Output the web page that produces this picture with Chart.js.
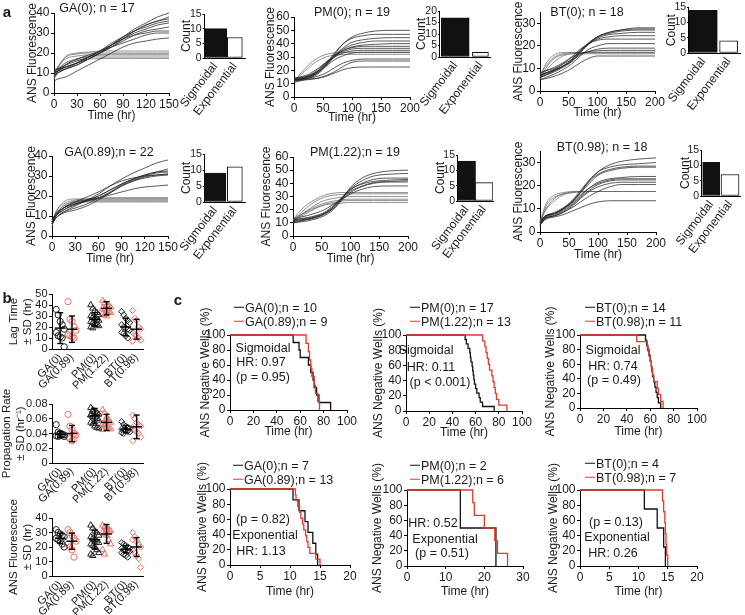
<!DOCTYPE html>
<html><head><meta charset="utf-8">
<script src="https://cdn.jsdelivr.net/npm/chart.js@4.4.0/dist/chart.umd.min.js"></script>
<style>
html,body{margin:0;padding:0;background:#fff;}
body{width:745px;height:615px;position:relative;overflow:hidden;font-family:"Liberation Sans",Arial,Helvetica,sans-serif;color:#1a1a1a;}
canvas{position:absolute;}
.t{position:absolute;white-space:nowrap;transform:translate(-50%,-50%);line-height:1;}
.lg{position:absolute;white-space:nowrap;font-size:12.5px;line-height:1;transform:translateY(-50%);}
.lg i{display:inline-block;width:10px;height:0;border-top:1.6px solid #000;vertical-align:middle;margin-right:1px;position:relative;top:-1px;}
</style></head><body>
<script>
// ================= DATA =================
// ---- Panel a: ANS fluorescence traces ----
const timeGA = [0,5,15,30,45,60,75,90,105,120,135,150];
const timeLong = [0,10,25,40,55,70,85,100,120,140,170,200];

const ga0Sig = [
 [10,11,12,14,17,20,24,28,32,35,38,40],
 [11,12,13,15,18,21,25,28,31,34,36,38],
 [9,10,12,15,18,21,24,28,31,34,36,37],
 [12,12,13,15,17,20,24,27,31,33,35,36],
 [8,10,12,14,17,20,23,27,30,32,34,35],
 [11,12,14,16,18,20,23,26,29,31,32,33],
 [10,11,13,15,18,21,24,27,29,30,31,31],
 [9,11,14,17,19,21,23,25,27,29,30,30],
 [6,7,8,11,14,17,20,23,25,26,27,27.5]
];
const ga0Exp = [
 [7,12,18,20,20.5,21,21,21,21,21,21,21],
 [8,13,18,19.5,20,20,20,20,20,20,20,20],
 [9,13,17,18.5,19,19,19,19,19,19,19,19],
 [8,11,15,17,18,18,18,18,18,18,18,18],
 [10,12,15,16.5,17,17.2,17.3,17.3,17.3,17.3,17.3,17.3],
 [7,10,14,17,18.5,19,19.5,19.5,19.5,19.5,19.5,19.5]
];
const pm0Sig = [
 [13,13.5,15,18,24,32,40,45,48,49.5,50,50],
 [14,14.5,16,19,25,33,40,44,46,47,47,47],
 [12,13,14,17,23,31,37,41,43,44,44.5,44.5],
 [13,14,15.5,19,25,31,36,39,41,42,42,42],
 [14,14,15,18,24,30,35,37.5,39,39.5,40,40],
 [12,13,15,19,25,31,35,37,38,38,38,38],
 [13,14,16,20,26,31,34,36,36.5,36.5,36.5,36.5],
 [14,15,17,21,26,30,33,34.5,35,35,35,35],
 [11,12,14,18,23,28,31,33,33.5,33.5,33.5,33.5],
 [13,13.5,14,15.5,18,22,25.5,27.5,28.5,28.5,28.5,28.5],
 [12,12.5,13,14,16,19,23,26,27,27,27,27],
 [13,13,13.5,14,15.5,18,20.5,22,22.5,22.5,22.5,22.5]
];
const pm0Exp = [
 [11,17,24,29,32,33,33.5,33.5,33.5,33.5,33.5,33.5],
 [12,16,22,27,30,31.5,32,32,32,32,32,32]
];
const bt0Sig = [
 [7,8,9,11,13,17,21,24,26,27,28,28],
 [6,7,8.5,10.5,13,17,21,24,26,27,27.5,27.5],
 [8,9,10,12,14,18,21.5,24,25.5,26.5,27,27],
 [7,8,9.5,11,13.5,17.5,21,23.5,25,25.5,26,26],
 [6.5,7.5,9,11,14,18,21,23,24,24.5,24.5,24.5],
 [7,8,9.5,12,15,18.5,21,22.5,23,23,23,23],
 [5,6,7.5,9.5,12,15.5,18.5,20,21,21,21,21],
 [6,7,9,11,13.5,16,17.5,18.5,19,19,19,19],
 [8,9,10.5,12.5,15,16.5,17.5,17.8,18,18,18,18],
 [5,5.5,6.5,8,10,12.5,14.5,15.5,15.5,15.5,15.5,15.5]
];
const bt0Exp = [
 [6,12,16,17,17,17,17,17,17,17,17,17],
 [7,11,15,16.5,17,17,17,17,17,17,17,17],
 [5,10,14.5,16,16.5,16.5,16.5,16.5,16.5,16.5,16.5,16.5],
 [6,9,13,15.5,16.5,17,17.2,17.2,17.2,17.2,17.2,17.2]
];
const ga89Sig = [
 [6,9,12,15,18,21,25,28.5,31.5,34,36.5,38],
 [7,10,13,16,18,20,23,26,28.5,30.5,32,33.5],
 [7,10,13,15.5,17.5,20,23,26,28.5,30.5,32,32.5],
 [6,9,12,14,16,19,22,25.5,28,30,31.5,32],
 [8,11,14,16,17.5,19,21.5,25,27.5,29.5,30.5,31],
 [6,9,11.5,13,15,18,21.5,25,27.5,29,30,30.5],
 [7,10,14,17,18,19,20.5,22,23.5,24.5,25,25.5],
 [8,11,14,17,19.5,22,25,27.5,29,30,30.5,31]
];
const ga89Exp = [
 [6,12,16,18,18.5,19,19,19,19,19,19,19],
 [7,12,17,18.5,18.5,18.5,18.5,18.5,18.5,18.5,18.5,18.5],
 [6,11,15,17.5,18,18,18,18,18,18,18,18],
 [5,10,14,16.5,17.5,17.5,17.5,17.5,17.5,17.5,17.5,17.5],
 [7,11,15,17,17,17,17,17,17,17,17,17],
 [6,10,14,16,17.5,18.5,19,19,19,19,19,19]
];
const pm122Sig = [
 [11,12,13,14.5,17,21,28,37,44,47.5,49.5,50],
 [12,12.5,13.5,15,17.5,22,29,36,42,45.5,47,47.5],
 [10,11,12.5,14,16.5,21,28,35,40,43,44,44],
 [11,11.5,12.5,14,17,22,29,35.5,39.5,41.5,42.5,43],
 [12,13,14,15.5,18,23,29,34,38,40.5,41.5,42],
 [10,10.5,11.5,13,15.5,20,27,33,37.5,40,41,41],
 [13,14,15.5,17.5,20,24,28,32,35.5,37.5,38,38]
];
const pm122Exp = [
 [12,18,24,28,31,32.5,33,33,33,33,33,33],
 [11,16,22,26.5,29.5,31,31.5,32,32,32,32,32],
 [10,14.5,19.5,24,27,28.5,29.5,30,30,30,30,30],
 [12,15,19,22.5,25,26.5,27.5,28,28,28,28,28],
 [11,14,17.5,21,24,25.5,26.5,27,27,27,27,27],
 [13,15.5,18.5,21.5,23.5,24.5,25,25.5,25.5,25.5,25.5,25.5]
];
const bt98Sig = [
 [4,7,8,10,13,17,22,26,29,30.5,31.5,32],
 [5,7,8.5,10.5,13.5,18,22.5,26,28,29,29.5,30],
 [4,7,8,10,13,17.5,22,25,27,28,28.5,28.5],
 [3,6.5,8,10,13,17,21,24.5,26.5,27.5,28,28],
 [4,6.5,7.5,9.5,12,15.5,19,21.5,23,23.5,24,24],
 [5,7,8,10,12.5,16,19,21,22.5,23,23,23],
 [4,6,7,9,11.5,15,18,20.5,22,22.5,22.5,22.5],
 [3,6,7,8.5,11,14.5,17.5,19.5,21,21.5,21.5,21.5],
 [4,6,7,8.5,10.5,13,15.5,17.5,19.5,20.5,20.5,20.5],
 [3,5.5,6.5,7.5,9,10.5,12,13,13.5,13.5,13.5,13.5]
];
const bt98Exp = [
 [4,12,16,17,17.5,17.5,17.5,17.5,17.5,17.5,17.5,17.5],
 [3,11,15,16.5,17.3,17.5,17.5,17.5,17.5,17.5,17.5,17.5],
 [5,10,14.5,16.5,17,17.3,17.5,17.5,17.5,17.5,17.5,17.5],
 [4,9.5,13.5,16,17,17.5,17.5,17.5,17.5,17.5,17.5,17.5]
];
// ---- Panel a: counts ----
const kineticsCategories = ['Sigmoidal','Exponential'];
const countsGA0 = [10,7];
const countsPM0 = [17,2];
const countsBT0 = [14,4];
const countsGA89 = [9,11];
const countsPM122 = [13,6];
const countsBT98 = [11,7];
const traceTitles = ['GA(0); n = 17','PM(0); n = 19','BT(0); n = 18','GA(0.89);n = 22','PM(1.22);n = 19','BT(0.98); n = 18'];

// ---- Panel b ----
const groupLabels = ['GA(0)','GA(0.89)','PM(0)','PM(1.22)','BT(0)','BT(0.98)'];
const lagTimes = [
 [36,31,25,22,18,15,12,11,10,2],
 [43,27,25,20,17,13,12,11,10],
 [40,37,35,33,31,30,29,28,27,26,25,24,23,22,21,20,19],
 [44,42,40,39,38,37,36,35,34,33,32,31,30],
 [34,31,28,26,24,22,20,19,18,17,15,14,12,10],
 [35,28,26,20,18,15,13,12,10,8,7]
];
const lagMean = [19,18,27,37,20,18];
const lagSD = [14,12,6,6,8,9];
const propRates = [
 [0.052,0.042,0.040,0.039,0.038,0.037,0.036,0.037,0.038,0.036],
 [0.066,0.050,0.045,0.040,0.038,0.035,0.033,0.030,0.032],
 [0.075,0.072,0.070,0.068,0.066,0.065,0.063,0.062,0.060,0.058,0.055,0.053,0.050,0.048,0.047,0.065,0.070],
 [0.072,0.068,0.062,0.058,0.055,0.053,0.050,0.048,0.047,0.046,0.045,0.052,0.060],
 [0.056,0.052,0.050,0.048,0.047,0.046,0.045,0.044,0.043,0.042,0.041,0.040,0.045,0.047],
 [0.065,0.060,0.055,0.052,0.050,0.048,0.045,0.042,0.040,0.035,0.030]
];
const propMean = [0.039,0.040,0.064,0.055,0.046,0.049];
const propSD = [0.004,0.011,0.010,0.011,0.005,0.016];
const ansFluor = [
 [32,30,29,28,27,26,25,24,22,20],
 [32,30,28,26,24,22,20,18,13],
 [35,33,31,30,28,27,26,25,24,23,22,21,20,18,16,15,14],
 [35,34,33,32,31,30,29,28,25,22,18,15,32],
 [23,22,21,20,19,19,18,18,17,17,16,15,14,13],
 [30,27,24,22,20,18,16,14,12,6,25]
];
const ansMean = [26,24,25,29,18.5,20];
const ansSD = [3.5,5.5,6.5,6.5,2.5,6.5];

// ---- Panel c: Kaplan-Meier steps (time of event, % negative after it) ----
const kmGA0sTime = [54,59,60,67,69,71,72,74,76,86];
const kmGA0sPct  = [90,80,70,60,50,40,30,20,10,0];
const kmGA89sTime = [65,67,68,69,70,72,73,75,76.5];
const kmGA89sPct  = [88.9,77.8,66.7,55.6,44.4,33.3,22.2,11.1,0];
const kmPM0sTime = [51,52,53.5,55,55.5,56,57,57.5,58,58.5,59,60,61,63,64,66,76];
const kmPM0sPct  = [94.1,88.2,82.4,76.5,70.6,64.7,58.8,52.9,47.1,41.2,35.3,29.4,23.5,17.6,11.8,5.9,0];
const kmPM122sTime = [66,68,69,70,71,72,74,75,76,77,78,80,87];
const kmPM122sPct  = [92.3,84.6,76.9,69.2,61.5,53.8,46.2,38.5,30.8,23.1,15.4,7.7,0];
const kmBT0sTime = [56,57,58,59,60,61,61.5,62,63,64,65,66,67,69];
const kmBT0sPct  = [92.9,85.7,78.6,71.4,64.3,57.1,50,42.9,35.7,28.6,21.4,14.3,7.1,0];
const kmBT98sTime = [48.5,57.5,59,60,61,62,63,66,67,69,71];
const kmBT98sPct  = [90.9,81.8,72.7,63.6,54.5,45.5,36.4,27.3,18.2,9.1,0];
const kmGA0eTime = [10.5,11.5,12.5,13.0,13.8,14.3,14.6];
const kmGA0ePct  = [85.7,71.4,57.1,42.9,28.6,14.3,0];
const kmGA89eTime = [10.9,11.0,11.3,11.6,11.8,12.1,12.3,12.6,12.8,13.0,13.3,14.3,15.0];
const kmGA89ePct  = [92.3,84.6,76.9,69.2,61.5,53.8,46.2,38.5,30.8,23.1,15.4,7.7,0];
const kmPM0eTime = [13.8,23.0];
const kmPM0ePct  = [50,0];
const kmPM122eTime = [17.0,17.4,20.0,22.7,23.4,26.0];
const kmPM122ePct  = [83.3,66.7,50,33.3,16.7,0];
const kmBT0eTime = [11.0,13.2,14.3,14.6];
const kmBT0ePct  = [75,50,25,0];
const kmBT98eTime = [14.1,14.3,14.5,14.6,14.7,14.8,15.0];
const kmBT98ePct  = [85.7,71.4,57.1,42.9,28.6,14.3,0];

// ================= STYLE / LAYOUT =================
const FONT = '"Liberation Sans", Arial, Helvetica, sans-serif';
const INK = '#1a1a1a';
const RED = '#e5392c';
const RED_LIGHT = '#ef6f62';
Chart.defaults.font.family = FONT;
Chart.defaults.font.size = 12;
Chart.defaults.color = INK;

function yAx(min, max, step, title, o = {}) {
  return {
    type: 'linear', position: 'left', min, max,
    grid: {drawOnChartArea: false, drawTicks: true, tickLength: o.tl || 3, color: '#000', lineWidth: 1},
    border: {display: true, color: '#000', width: 1},
    ticks: {stepSize: step, includeBounds: false, autoSkip: false, padding: o.pad == null ? 1.5 : o.pad, color: INK, font: {size: o.tick || 12}},
    title: {display: !!title, text: title || '', padding: 0, color: INK, font: {size: o.title || 12}}
  };
}
function xAx(min, max, step, title, o = {}) {
  return {
    type: 'linear', position: 'bottom', min, max, offset: false,
    grid: {drawOnChartArea: false, drawTicks: true, tickLength: 3, color: '#000', lineWidth: 1, offset: false},
    border: {display: true, color: '#000', width: 1},
    ticks: {stepSize: step, includeBounds: false, autoSkip: false, padding: 1, color: INK, maxRotation: 0, font: {size: o.tick || 12}},
    title: {display: !!title, text: title || '', padding: 0, color: INK, font: {size: o.title || 12}}
  };
}

function makeChart(box, plot, type, datasets, scales, extra = {}) {
  const c = document.createElement('canvas');
  const w = box.r - box.l, h = box.b - box.t;
  c.width = w; c.height = h;
  c.style.left = box.l + 'px'; c.style.top = box.t + 'px';
  c.style.width = w + 'px'; c.style.height = h + 'px';
  document.body.appendChild(c);
  scales.x.afterFit = s => { s.height = box.b - plot.b; };
  scales.y.afterFit = s => { s.width = plot.l - box.l; };
  return new Chart(c, {
    type, data: {datasets},
    options: Object.assign({
      responsive: false, animation: false, devicePixelRatio: 1,
      layout: {autoPadding: false, padding: {top: plot.t - box.t, right: box.r - plot.r, left: 0, bottom: 0}},
      scales,
      plugins: {legend: {display: false}, tooltip: {enabled: false}, title: {display: false}}
    }, extra)
  });
}

function txt(s, x, y, size, weight) {
  const d = document.createElement('div');
  d.className = 't'; d.textContent = s;
  d.style.left = x + 'px'; d.style.top = y + 'px'; d.style.fontSize = size + 'px';
  if (weight) d.style.fontWeight = weight;
  document.body.appendChild(d);
}
function legendItem(s, x, y, color) {
  const d = document.createElement('div');
  d.className = 'lg';
  d.style.left = x + 'px'; d.style.top = y + 'px';
  const i = document.createElement('i'); i.style.borderTopColor = color;
  d.appendChild(i); d.appendChild(document.createTextNode(s));
  document.body.appendChild(d);
}

// ---- panel a: traces ----
function traceChart(box, plot, times, sig, exp, ymax, ystep, xmax, xstep) {
  const mk = (arr, color, wid) => arr.map(v => ({
    data: v.map((y, i) => ({x: times[i], y})), borderColor: color, borderWidth: wid,
    pointRadius: 0, cubicInterpolationMode: 'monotone', fill: false, clip: false
  }));
  const ds = [...mk(sig, 'rgba(40,40,40,0.85)', 0.9), ...mk(exp, 'rgba(110,110,110,0.85)', 0.9)];
  makeChart(box, plot, 'line', ds, {
    x: xAx(0, xmax, xstep, 'Time (hr)'),
    y: yAx(0, ymax, ystep, 'ANS Fluorescence')
  });
}
traceChart({l:25,t:0,r:183,b:123},  {l:54,t:13,r:169,b:93},  timeGA, ga0Sig, ga0Exp, 40, 10, 150, 30);
traceChart({l:263,t:0,r:423,b:125}, {l:294,t:17,r:410,b:97}, timeLong, pm0Sig, pm0Exp, 60, 10, 200, 50);
traceChart({l:511,t:0,r:668,b:120}, {l:540,t:12,r:655,b:91}, timeLong, bt0Sig, bt0Exp, 35, 10, 200, 50);
traceChart({l:24,t:140,r:181,b:266}, {l:52,t:156,r:168,b:236}, timeGA, ga89Sig, ga89Exp, 40, 10, 150, 30);
traceChart({l:259,t:140,r:421,b:266}, {l:293,t:157,r:408,b:236}, timeLong, pm122Sig, pm122Exp, 60, 10, 200, 50);
traceChart({l:511,t:136,r:669,b:262}, {l:540,t:151,r:656,b:232}, timeLong, bt98Sig, bt98Exp, 35, 10, 200, 50);

// ---- panel a: counts ----
function countChart(box, plot, counts, ymax, xr, thick) {
  const ds = counts.map((v, i) => ({
    data: [{x: i, y: v}], backgroundColor: i === 0 ? '#111' : '#fff', borderColor: '#111',
    borderWidth: 1, borderSkipped: false, barThickness: thick[i], grouped: false
  }));
  const x = xAx(xr[0], xr[1], 1, '');
  x.grid.drawTicks = false; x.grid.display = false;
  x.afterBuildTicks = s => { s.ticks = kineticsCategories.map((_, i) => ({value: i})); };
  x.ticks.callback = (v, i) => kineticsCategories[i];
  x.ticks.minRotation = 52; x.ticks.maxRotation = 52; x.ticks.padding = 2;
  const y = yAx(0, ymax, 5, 'Count', {tick: 10.5, tl: 1.5, pad: 1});
  makeChart(box, plot, 'bar', ds, {x, y}, {datasets: {bar: {grouped: false}}});
}
countChart({l:174,t:6,r:250,b:125},  {l:199,t:14,r:245,b:58},  countsGA0, 15, [-0.57,1.52], [23,15]);
countChart({l:413,t:3,r:495,b:125},  {l:438,t:11,r:490,b:57},  countsPM0, 20, [-0.62,1.38], [28,16]);
countChart({l:662,t:0,r:745,b:122},  {l:686,t:5,r:740,b:53},   countsBT0, 15, [-0.58,1.45], [28,18]);
countChart({l:174,t:146,r:250,b:270}, {l:199,t:154,r:245,b:202}, countsGA89, 15, [-0.53,1.51], [22,15]);
countChart({l:426,t:147,r:498,b:270}, {l:450,t:155,r:493,b:201}, countsPM122, 15, [-0.52,1.52], [18,18]);
countChart({l:671,t:142,r:745,b:266}, {l:694,t:150,r:740,b:196}, countsBT98, 15, [-0.51,1.53], [17,18]);

txt(traceTitles[0], 97, 8, 12.5); txt(traceTitles[1], 352, 12, 12.5); txt(traceTitles[2], 587, 12, 12.5);
txt(traceTitles[3], 109, 152, 12.5); txt(traceTitles[4], 355, 152, 12.5); txt(traceTitles[5], 602, 147, 12.5);

// ---- panel b ----
const slotX = [0.9, 2.2, 4.7, 6.0, 8.1, 9.3];
const markerStyle = ['circle','circle','triangle','triangle','rectRot','rectRot'];
const markerColor = ['#222', RED_LIGHT, '#222', RED_LIGHT, '#222', RED_LIGHT];
function dotChart(box, plot, values, means, sds, ymax, ystep, titleLines, tFont) {
  const ds = [];
  const seg = pts => ({data: pts, showLine: true, borderColor: '#000', borderWidth: 1.4, pointRadius: 0, order: 0, clip: false});
  values.forEach((vals, g) => {
    const m = means[g], s = sds[g], x = slotX[g];
    ds.push(seg([{x, y: m - s}, {x, y: m + s}]));
    ds.push(seg([{x: x - 0.33, y: m + s}, {x: x + 0.33, y: m + s}]));
    ds.push(seg([{x: x - 0.33, y: m - s}, {x: x + 0.33, y: m - s}]));
    ds.push(seg([{x: x - 0.6, y: m}, {x: x + 0.6, y: m}]));
    ds.push({data: vals.map((v, i) => ({x: x + ((i % 5) - 2) * 0.22, y: v})),
      pointStyle: markerStyle[g], pointRadius: markerStyle[g] === 'triangle' ? 3.6 : 3.1,
      borderColor: markerColor[g], backgroundColor: 'rgba(255,255,255,0)', borderWidth: 1, order: 1, clip: false, showLine: false});
  });
  const x = xAx(0, 10, 1, '', {tick: 11});
  x.grid.drawTicks = false; x.grid.display = false;
  x.afterBuildTicks = s => { s.ticks = slotX.map(v => ({value: v})); };
  x.ticks.callback = (v, i) => groupLabels[i];
  x.ticks.minRotation = 45; x.ticks.maxRotation = 45; x.ticks.padding = 2;
  const y = yAx(0, ymax, ystep, titleLines, {tick: 11, title: tFont});
  makeChart(box, plot, 'scatter', ds, {x, y});
}
dotChart({l:7,t:270,r:150,b:392}, {l:52,t:294,r:143,b:349}, lagTimes, lagMean, lagSD, 50, 10, ['Lag Time','± SD (hr)'], 11.5);
dotChart({l:0,t:380,r:150,b:506}, {l:52,t:404,r:143,b:463}, propRates, propMean, propSD, 0.08, 0.02, ['Propagation Rate','± SD (hr\u207B\u00B9)'], 11.5);
dotChart({l:7,t:490,r:150,b:615}, {l:52,t:518,r:143,b:576}, ansFluor, ansMean, ansSD, 40, 10, ['ANS Fluorescence','± SD (hr)'], 11.5);

// ---- panel c ----
function kmChart(box, plot, xmax, xstep, series) {
  const ds = series.map(s => ({
    data: [{x: 0, y: 100}].concat(s.t.map((t, i) => ({x: t, y: s.p[i]}))),
    stepped: 'before', borderColor: s.c, borderWidth: 1.3, pointRadius: 0, fill: false, clip: false
  }));
  makeChart(box, plot, 'line', ds, {
    x: xAx(0, xmax, xstep, 'Time (hr)'),
    y: yAx(0, 100, 20, 'ANS Negative Wells (%)')
  });
}
kmChart({l:198,t:296,r:360,b:439}, {l:230,t:335,r:347,b:410}, 100, 20,
  [{t: kmGA89sTime, p: kmGA89sPct, c: RED}, {t: kmGA0sTime, p: kmGA0sPct, c: '#111'}]);
kmChart({l:371,t:296,r:535,b:440}, {l:406,t:335,r:522,b:411}, 100, 20,
  [{t: kmPM122sTime, p: kmPM122sPct, c: RED}, {t: kmPM0sTime, p: kmPM0sPct, c: '#111'}]);
kmChart({l:543,t:296,r:712,b:439}, {l:580,t:335,r:697,b:408}, 100, 20,
  [{t: kmBT98sTime, p: kmBT98sPct, c: RED}, {t: kmBT0sTime, p: kmBT0sPct, c: '#111'}]);
kmChart({l:195,t:455,r:362,b:599}, {l:230,t:489,r:350,b:565}, 20, 5,
  [{t: kmGA89eTime, p: kmGA89ePct, c: RED}, {t: kmGA0eTime, p: kmGA0ePct, c: '#111'}]);
kmChart({l:370,t:455,r:535,b:599}, {l:407,t:490,r:523,b:566}, 30, 10,
  [{t: kmPM122eTime, p: kmPM122ePct, c: RED}, {t: kmPM0eTime, p: kmPM0ePct, c: '#111'}]);
kmChart({l:546,t:455,r:712,b:599}, {l:580,t:490,r:697,b:566}, 20, 5,
  [{t: kmBT98eTime, p: kmBT98ePct, c: RED}, {t: kmBT0eTime, p: kmBT0ePct, c: '#111'}]);

legendItem('GA(0);n = 10', 234, 308, '#111'); legendItem('GA(0.89);n = 9', 234, 322, RED);
legendItem('PM(0);n = 17', 410, 308, '#111'); legendItem('PM(1.22);n = 13', 410, 322, RED);
legendItem('BT(0);n = 14', 585, 308, '#111'); legendItem('BT(0.98);n = 11', 585, 322, RED);
legendItem('GA(0);n = 7', 233, 466, '#111'); legendItem('GA(0.89);n = 13', 233, 480, RED);
legendItem('PM(0);n = 2', 410, 466, '#111'); legendItem('PM(1.22);n = 6', 410, 480, RED);
legendItem('BT(0);n = 4', 585, 464, '#111'); legendItem('BT(0.98);n = 7', 585, 478, RED);

const A = 12.5;
txt('Sigmoidal', 263, 348, A); txt('HR: 0.97', 261, 362, A); txt('(p = 0.95)', 263, 377, A);
txt('Sigmoidal', 426, 350, A); txt('HR: 0.11', 431, 367, A); txt('(p < 0.001)', 440, 382, A);
txt('Sigmoidal', 613, 350, A); txt('HR: 0.74', 613, 366, A); txt('(p = 0.49)', 614, 380, A);
txt('(p = 0.82)', 263, 519, A); txt('Exponential', 265, 535, A); txt('HR: 1.13', 261, 551, A);
txt('HR: 0.52', 433, 523, A); txt('Exponential', 445, 539, A); txt('(p = 0.51)', 442, 553, A);
txt('(p = 0.13)', 616, 522, A); txt('Exponential', 617, 537, A); txt('HR: 0.26', 613, 553, A);

txt('a', 7, 11, 15, 'bold'); txt('b', 7, 297, 15, 'bold'); txt('c', 178, 299, 15, 'bold');
</script>
</body></html>
